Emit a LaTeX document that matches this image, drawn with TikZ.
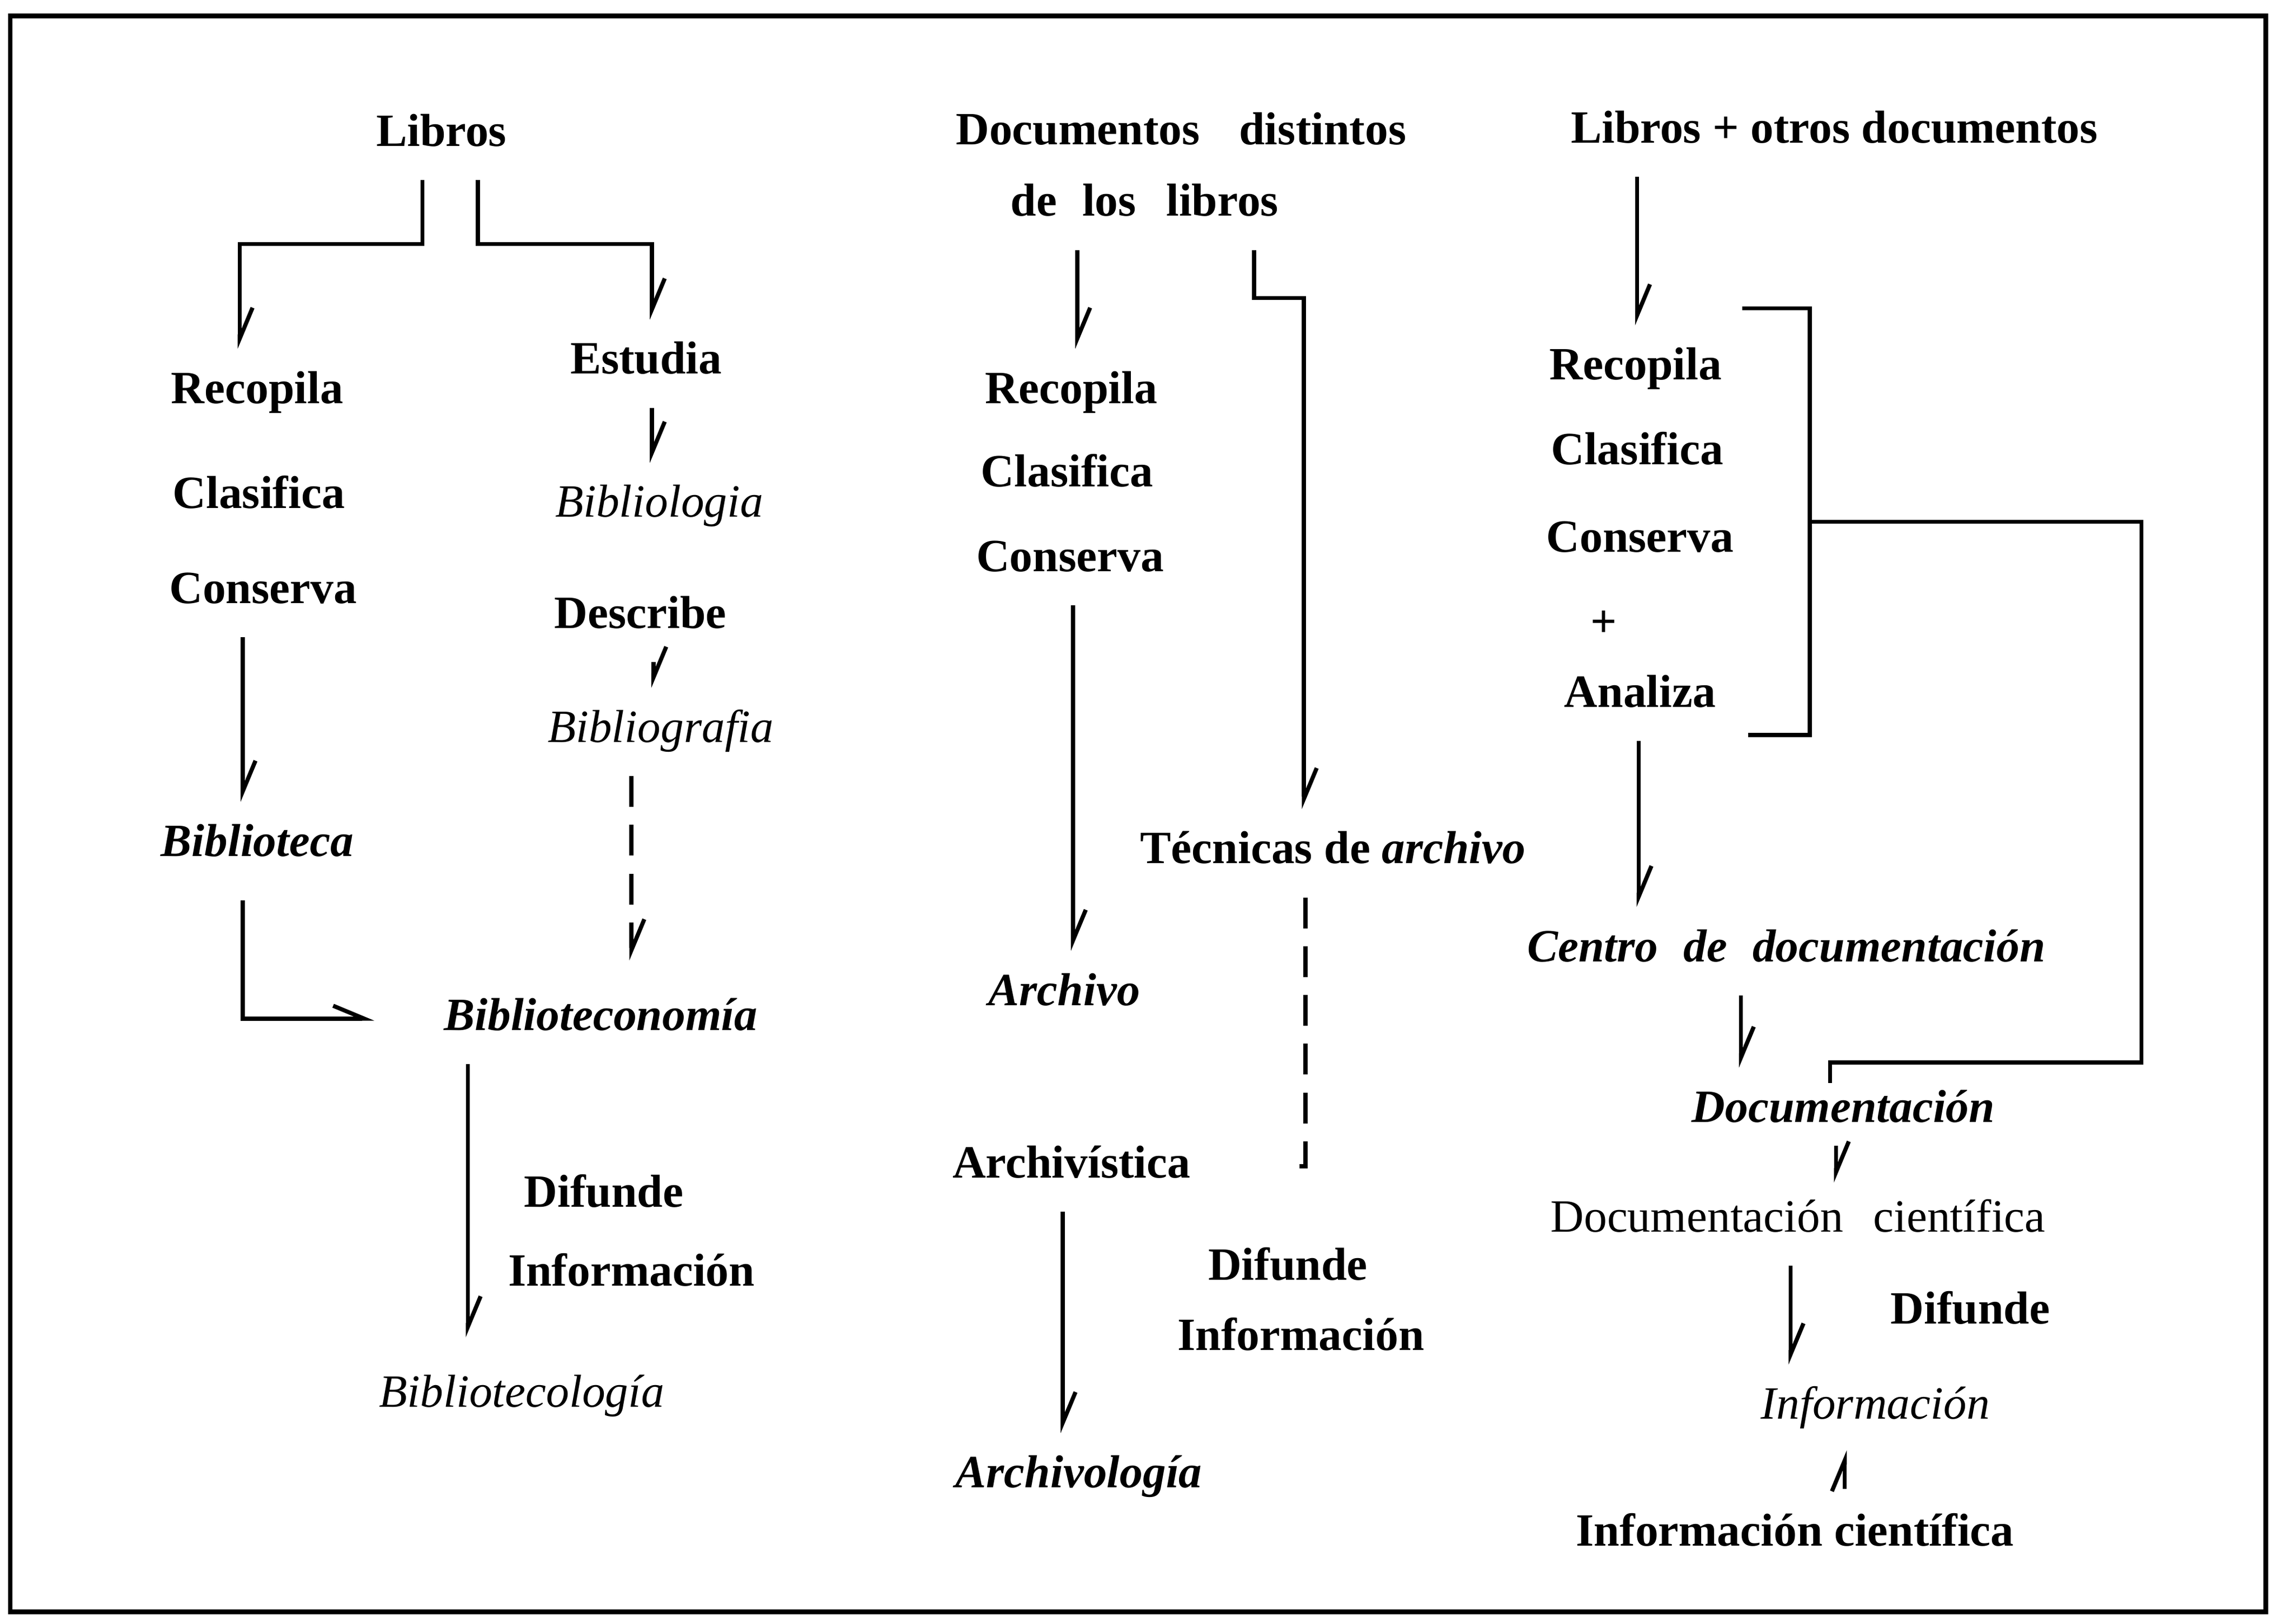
\documentclass[tikz,border=0pt]{standalone}
\usepackage{fontspec}
\setmainfont{Liberation Serif}
\usetikzlibrary{arrows.meta}

\begin{document}
\begin{tikzpicture}[x=0.02cm, y=-0.02cm,
  every node/.style={font=\fontsize{18}{21}\selectfont\bfseries, text height=13pt, text depth=4pt, inner sep=2pt},
  it/.style={font=\fontsize{18}{21}\selectfont\itshape},
  bit/.style={font=\fontsize{18}{21}\selectfont\bfseries\itshape},
  rm/.style={font=\fontsize{18}{21}\selectfont},
  link/.style={line width=1.6pt},
  arr/.style={link, -{Straight Barb[harpoon, length=12pt, width=10pt]}, shorten <=7pt, shorten >=6pt},
  dashlink/.style={link, dash pattern=on 12pt off 7pt}]
\useasboundingbox (0,0) rectangle (1568,1111);
\draw[line width=1.8pt] (7,11) rectangle (1550,1103);

% libros
\node(B0) at (302,92) {Libros};
\node(B1) at (176,268) {Recopila};
\node(B2) at (177,340) {Clasifica};
\node(B3) at (180,405) {Conserva};
\node[bit](B4) at (176,578) {Biblioteca};
\node(B5) at (442,248) {Estudia};
\node[it](B6) at (451,346) {Bibliologia};
\node(B7) at (438,422) {Describe};
\node[it](B8) at (452,500) {Bibliografia};
\node[bit](B9) at (411,697) {Biblioteconomía};
\node(B10) at (413,818) {Difunde};
\node(B11) at (432,872) {Información};
\node[it](B12) at (357,955) {Bibliotecología};

% documentos distintos de los libros
\node(A0) at (808,91) {Documentos\hspace{0.6em} distintos};
\node(A1) at (783,140) {de\hspace{0.3em} los\hspace{0.4em} libros};
\node(A2) at (733,268) {Recopila};
\node(A3) at (730,325) {Clasifica};
\node(A4) at (732,383) {Conserva};
\node[bit](A5) at (728,680) {Archivo};
\node(A6) at (912,583) {Técnicas de \textit{archivo}};
\node(A7) at (733,798) {Archivística};
\node(A8) at (881,868) {Difunde};
\node(A9) at (890,916) {Información};
\node[bit](A10) at (738,1010) {Archivología};

% libros + otros documentos
\node(D0) at (1255,90) {Libros + otros documentos};
\node(D1) at (1119,252) {Recopila};
\node(D2) at (1120,310) {Clasifica};
\node(D3) at (1122,370) {Conserva};
\node(D4) at (1097,428) {+};
\node(D5) at (1122,476) {Analiza};
\node[bit](D6) at (1222,650) {Centro\hspace{0.3em} de\hspace{0.3em} documentación};
\node[bit](D7) at (1261,760) {Documentación};
\node[rm](D8) at (1230,835) {Documentación\hspace{0.4em} científica};
\node(D9) at (1348,898) {Difunde};
\node[it](D10) at (1283,963) {Información};
\node(D11) at (1228,1050) {Información científica};

\coordinate(BRt) at (1192,211);
\coordinate(BRm) at (1238,357);
\coordinate(BRb) at (1196,503);
\coordinate(A6e) at (884,798);

\draw[arr](B0.south -| 289,0) -- (289,167) -| (B1.north -| 164,0);
\draw[arr](B0.south -| 327,0) -- (327,167) -| (B5.north -| 446,0);
\draw[arr](B5.south -| 446,0) -- (B6.north -| 446,0);
\draw[arr](B7.south -| 447,0) -- (B8.north -| 447,0);
\draw[arr](B3.south -| 166,0) -- (B4.north -| 166,0);
\draw[arr, dashlink, shorten >=12pt](B8.south -| 432,0) -- (B9.north -| 432,0);
\draw[arr, shorten <=11pt, shorten >=25pt](B4.south -| 166,0) |- (B9.west);
\draw[arr, shorten >=12pt](B9.south -| 320,0) -- (B12.north -| 320,0);

\draw[arr](A1.south -| 737,0) -- (A2.north -| 737,0);
\draw[arr](A1.south -| 858,0) -- (858,204) -| (A6.north -| 892,0);
\draw[arr](A4.south -| 734,0) -- (A5.north -| 734,0);
\draw[dashlink, shorten <=7pt](A6.south -| 893,0) |- (A6e);
\draw[arr](A7.south -| 727,0) -- (A10.north -| 727,0);

\draw[arr](D0.south -| 1120,0) -- (D1.north -| 1120,0);
\draw[link](BRt) -- (1238,211) -- (1238,503) -- (BRb);
\draw[link](BRm) -- (1465,357) |- (1252,727) -- (D7.north -| 1252,0);
\draw[arr](D5.south -| 1121,0) -- (D6.north -| 1121,0);
\draw[arr](D6.south -| 1191,0) -- (D7.north -| 1191,0);
\draw[arr, shorten <=3pt, shorten >=4pt](D7.south -| 1256,0) -- (D8.north -| 1256,0);
\draw[arr](D8.south -| 1225,0) -- (D10.north -| 1225,0);
\draw[arr](D11.north -| 1262,0) -- (D10.south -| 1262,0);
\end{tikzpicture}
\end{document}
